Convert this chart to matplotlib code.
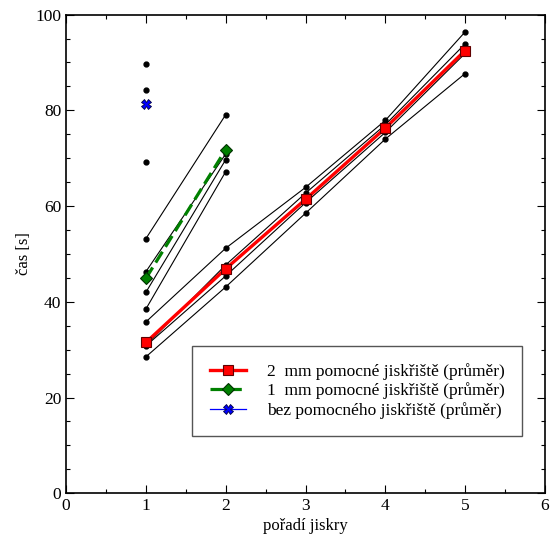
import matplotlib
matplotlib.use('Agg')
import matplotlib.pyplot as plt
from matplotlib.ticker import MultipleLocator

plt.rcParams['font.family'] = ['Liberation Serif', 'DejaVu Serif']
plt.rcParams['font.size'] = 12

# 2 mm auxiliary gap - individual runs (spark 1..5)
x_2mm = [1, 2, 3, 4, 5]
runs_2mm = [
    [35.8, 51.2, 63.9, 77.9, 96.4],
    [30.9, 47.7, 62.7, 77.0, 93.9],
    [30.8, 45.4, 60.7, 75.4, 91.9],
    [28.5, 43.1, 58.5, 74.0, 87.7],
]
mean_2mm = [31.5, 46.9, 61.4, 76.3, 92.5]

# 1 mm auxiliary gap - individual runs (spark 1..2)
x_1mm = [1, 2]
runs_1mm = [
    [53.2, 79.1],
    [46.3, 70.9],
    [42.0, 69.7],
    [38.5, 67.2],
]
mean_1mm = [44.9, 71.8]

# no auxiliary gap - only first spark
x_none = [1]
runs_none = [[89.6], [84.2], [69.2]]
mean_none = [81.3]

labels = ['2  mm pomocné jiskřiště (průměr)',
          '1  mm pomocné jiskřiště (průměr)',
          'bez pomocného jiskřiště (průměr)']

fig = plt.figure(figsize=(5.51, 5.42), dpi=100)
ax = fig.add_axes([0.120, 0.090, 0.869, 0.883])

for xs, runs in ((x_2mm, runs_2mm), (x_1mm, runs_1mm), (x_none, runs_none)):
    for r in runs:
        ax.plot(xs, r, color='black', lw=0.8, marker='o', ms=3.5, zorder=2)

ax.plot(x_2mm, mean_2mm, color='red', lw=2.4, marker='s', ms=6.5,
        mfc='red', mec='#600000', mew=0.8, label=labels[0], zorder=4)
ax.plot(x_1mm, mean_1mm, color='green', lw=2.3, ls=(0, (4, 1.8)), marker='D', ms=6.5,
        mfc='green', mec='#003000', mew=0.8, label=labels[1], zorder=4)
ax.plot(x_none, mean_none, color='blue', lw=0.9, marker='X', ms=7,
        mfc='blue', mec='#000040', mew=0.6, label=labels[2], zorder=4)

ax.set_xlim(0, 6)
ax.set_ylim(0, 100)
ax.xaxis.set_major_locator(MultipleLocator(1))
ax.xaxis.set_minor_locator(MultipleLocator(0.5))
ax.yaxis.set_major_locator(MultipleLocator(20))
ax.yaxis.set_minor_locator(MultipleLocator(5))
ax.tick_params(which='both', direction='in', top=True, right=True, labelsize=12.5)
ax.tick_params(which='major', length=6, width=0.8)
ax.tick_params(which='minor', length=3, width=0.8)
for s in ax.spines.values():
    s.set_linewidth(1.2)

ax.set_xlabel('pořadí jiskry', fontsize=12, labelpad=3)
ax.set_ylabel('čas [s]', fontsize=12, labelpad=2)

leg = ax.legend(loc='lower right', bbox_to_anchor=(0.952, 0.119), fontsize=12.5,
                fancybox=False, framealpha=1, edgecolor='#555555',
                handlelength=2.1, handletextpad=1.2, labelspacing=0.15,
                borderpad=1.0, borderaxespad=0)
leg.get_frame().set_linewidth(1.0)

fig.savefig('out.png', dpi=100)
